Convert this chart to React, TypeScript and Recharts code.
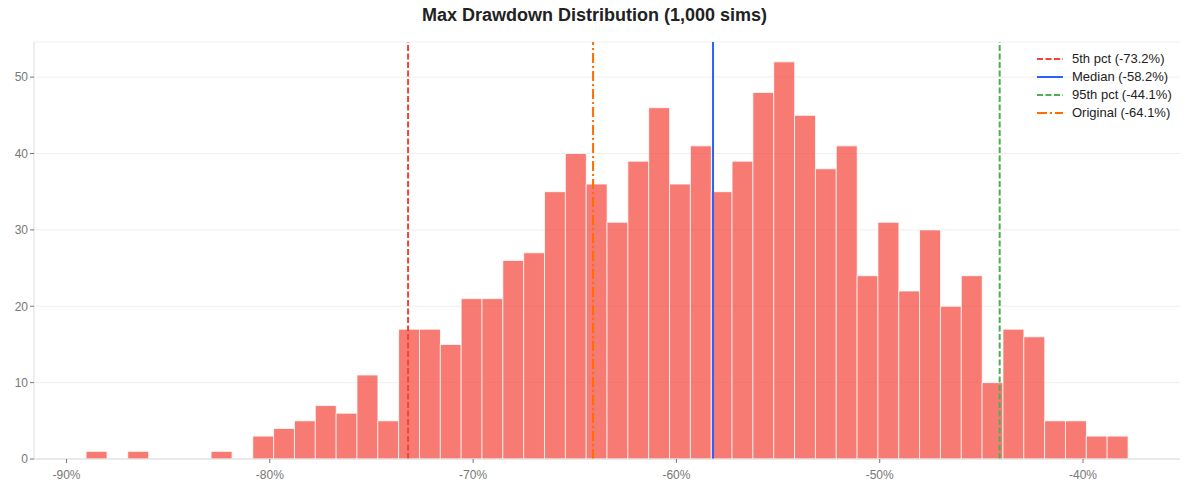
import React from "react";
import {
  ComposedChart,
  Bar,
  XAxis,
  YAxis,
  CartesianGrid,
  ReferenceLine,
} from "recharts";

// Histogram of simulated max drawdowns: 50 equal-width bins
const binStart = -89.04; // left edge of the first bin, in %
const binWidth = 1.025; // bin width, in %
const counts = [
  1, 0, 1, 0, 0, 0, 1, 0, 3, 4,
  5, 7, 6, 11, 5, 17, 17, 15, 21, 21,
  26, 27, 35, 40, 36, 31, 39, 46, 36, 41,
  35, 39, 48, 52, 45, 38, 41, 24, 31, 22,
  30, 20, 24, 10, 17, 16, 5, 5, 3, 3,
];

const xTicks = [-90, -80, -70, -60, -50, -40];
const yTicks = [0, 10, 20, 30, 40, 50];

// Reference markers drawn as vertical lines
const markerLabels = ["5th pct", "Median", "95th pct", "Original"];
const markerValues = [-73.2, -58.2, -44.1, -64.1];
const markerColors = ["#F44336", "#2962FF", "#4CAF50", "#FF6D00"];
const markerDashes = ["6 2.5", "0", "6 2.5", "10 3 2 3"];

const data = counts.map((c, i) => ({
  x: binStart + (i + 0.5) * binWidth,
  count: c,
}));

const FONT = '"Liberation Sans", Arial, Helvetica, sans-serif';

export default function App() {
  return (
    <div
      style={{
        position: "absolute",
        left: 0,
        top: 0,
        width: 1189,
        height: 490,
        background: "#fff",
        fontFamily: FONT,
      }}
    >
      <div
        style={{
          position: "absolute",
          left: 0,
          top: 5,
          width: 1189,
          textAlign: "center",
          fontSize: 18,
          fontWeight: "bold",
          color: "#222",
        }}
      >
        Max Drawdown Distribution (1,000 sims)
      </div>
      <ComposedChart
        width={1189}
        height={490}
        data={data}
        margin={{ top: 42, right: 9, bottom: 7, left: 8 }}
        barCategoryGap={0}
        barGap={0}
      >
        <CartesianGrid vertical={false} stroke="#ebebeb" strokeWidth={0.8} />
        <XAxis
          dataKey="x"
          type="number"
          domain={[-91.6, -35.23]}
          ticks={xTicks}
          tickFormatter={(v: number) => `${v}%`}
          height={24}
          stroke="#dddddd"
          tickSize={4}
          tickMargin={7}
          tick={{ fill: "#777", fontSize: 12, fontFamily: FONT }}
          tickLine={{ stroke: "#777" }}
          allowDataOverflow
        />
        <YAxis
          type="number"
          domain={[0, 54.6]}
          ticks={yTicks}
          width={26}
          stroke="#dddddd"
          tickSize={4}
          tick={{ fill: "#777", fontSize: 12, fontFamily: FONT }}
          tickLine={{ stroke: "#777" }}
          allowDataOverflow
        />
        <Bar
          dataKey="count"
          fill="#F44336"
          fillOpacity={0.7}
          stroke="#ffffff"
          strokeWidth={0.8}
          isAnimationActive={false}
        />
        {markerValues.map((v, i) => (
          <ReferenceLine
            key={markerLabels[i]}
            x={v}
            stroke={markerColors[i]}
            strokeWidth={2}
            strokeDasharray={markerDashes[i]}
          />
        ))}
      </ComposedChart>
      <div
        style={{
          position: "absolute",
          left: 1036,
          top: 50,
          fontSize: 13,
          color: "#222",
          lineHeight: "18px",
        }}
      >
        {markerLabels.map((label, i) => (
          <div key={label} style={{ display: "flex", alignItems: "center" }}>
            <svg width={28} height={18} style={{ marginRight: 8 }}>
              <line
                x1={1}
                x2={27}
                y1={9}
                y2={9}
                stroke={markerColors[i]}
                strokeWidth={2}
                strokeDasharray={markerDashes[i] === "0" ? undefined : markerDashes[i]}
              />
            </svg>
            <span>{`${label} (${markerValues[i].toFixed(1)}%)`}</span>
          </div>
        ))}
      </div>
    </div>
  );
}
